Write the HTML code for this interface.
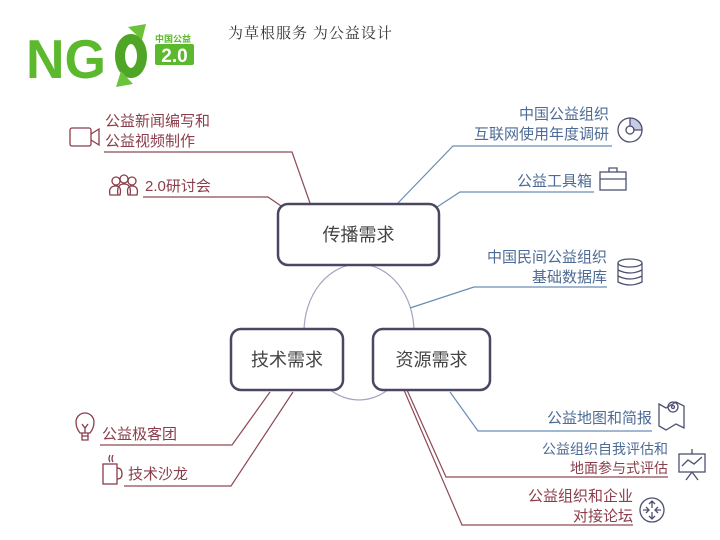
<!DOCTYPE html>
<html><head><meta charset="utf-8"><style>
html,body{margin:0;padding:0;background:#fff}
svg{display:block}
text{font-family:"Liberation Sans","Noto Sans CJK SC",sans-serif}
</style></head><body>
<svg width="720" height="540" viewBox="0 0 720 540" xmlns="http://www.w3.org/2000/svg">
<!-- logo -->
<text x="26" y="78" font-size="55" font-weight="bold" fill="#5cb82c" textLength="80" lengthAdjust="spacingAndGlyphs">NG</text>
<ellipse cx="131" cy="56" rx="11" ry="17" fill="none" stroke="#4ea526" stroke-width="10"/>
<path d="M128 27 L146 24 L142 40 Z" fill="#6cc23a"/>
<path d="M133 84 L116 87 L121 71 Z" fill="#6cc23a"/>
<text x="155" y="42" font-size="9" font-weight="bold" fill="#5cb82c" style="font-family:'Noto Sans CJK SC',sans-serif">中国公益</text>
<rect x="155" y="44" width="39" height="21" rx="2" fill="#5cb82c"/>
<text x="174.5" y="62" font-size="19" font-weight="bold" fill="#fff" text-anchor="middle">2.0</text>
<text x="228" y="38" font-size="15" fill="#333" style="font-family:'Noto Serif CJK SC',serif" letter-spacing="1">为草根服务 为公益设计</text>

<!-- center ellipse -->
<ellipse cx="359" cy="332" rx="55" ry="68" fill="none" stroke="#a7a3c0" stroke-width="1.2"/>

<!-- connectors -->
<g fill="none" stroke="#8e4a55" stroke-width="1.2">
<polyline points="104,152 292,152 310,203"/>
<polyline points="143,197 268,197 284,208"/>
<polyline points="100,445 232,445 270,392"/>
<polyline points="124,486 231,486 293,392"/>
<polyline points="668,477 446,477 407,390"/>
<polyline points="633,525 462,525 404,390"/>
</g>
<g fill="none" stroke="#6a8cb3" stroke-width="1.2">
<polyline points="612,146 453,146 398,203"/>
<polyline points="594,192 460,192 437,207"/>
<polyline points="607,287 474,287 410,308"/>
<polyline points="652,431 478,431 450,392"/>
</g>

<!-- boxes -->
<g fill="#fff" stroke="#4b4763" stroke-width="2.5">
<rect x="278" y="204" width="161" height="61" rx="10"/>
<rect x="231" y="329" width="112" height="61" rx="10"/>
<rect x="373" y="329" width="117" height="61" rx="10"/>
</g>
<g font-size="18" fill="#444" text-anchor="middle">
<text x="358.5" y="241">传播需求</text>
<text x="287" y="366">技术需求</text>
<text x="431.5" y="366">资源需求</text>
</g>

<!-- labels -->
<g font-size="15" fill="#8a3d4a">
<text x="105" y="126">公益新闻编写和</text>
<text x="105" y="146">公益视频制作</text>
<text x="145" y="191">2.0研讨会</text>
<text x="102" y="439">公益极客团</text>
<text x="128" y="479">技术沙龙</text>
</g>
<g font-size="15" fill="#4d6b95" text-anchor="end">
<text x="609" y="119">中国公益组织</text>
<text x="609" y="139">互联网使用年度调研</text>
<text x="592" y="186">公益工具箱</text>
<text x="607" y="262">中国民间公益组织</text>
<text x="607" y="282">基础数据库</text>
<text x="652" y="423">公益地图和简报</text>
<text x="668" y="454" font-size="14">公益组织自我评估和</text>
<text x="668" y="473" font-size="14" fill="#8a3d4a">地面参与式评估</text>
<text x="633" y="501" fill="#8a3d4a">公益组织和企业</text>
<text x="633" y="521" fill="#8a3d4a">对接论坛</text>
</g>

<!-- icons left -->
<g fill="none" stroke="#8a3d4a" stroke-width="1.3">
<rect x="70" y="128" width="21" height="18" rx="2"/>
<path d="M91 134 L99 129 L99 145 L91 140"/>
<circle cx="116" cy="181" r="4"/><circle cx="124" cy="179" r="4"/><circle cx="132" cy="181" r="4"/>
<path d="M110 195 Q108 186 116 186 Q122 186 120 195 Z"/>
<path d="M118 195 Q116 184 124 184 Q132 184 130 195"/>
<path d="M128 195 Q126 186 132 186 Q139 186 137 195 Z"/>
<path d="M80 433 Q76 428 76 422 A9 9 0 0 1 94 422 Q94 428 90 433 Z"/>
<path d="M82 433 L82 440 L88 440 L88 433 M82 436 L88 436 M82 424 L85 428 L88 424 M85 428 L85 433"/>
<rect x="103" y="464" width="14" height="20"/>
<path d="M117 468 Q122 468 122 474 Q122 479 117 479"/>
<path d="M110 455 Q108 459 110 462 M113 455 Q111 459 113 462"/>
</g>
<!-- icons right -->
<g fill="none" stroke="#4d5070" stroke-width="1.3">
<circle cx="630" cy="130" r="12"/><circle cx="630" cy="130" r="4"/>
<path d="M630 118 A12 12 0 0 1 642 130 L634 130 A4 4 0 0 0 630 126 Z" fill="#c6cbe8"/>
<rect x="600" y="172" width="26" height="18"/><path d="M609 172 L609 168 L617 168 L617 172 M600 179 L626 179"/>
<ellipse cx="630" cy="263" rx="12" ry="4"/>
<path d="M618 263 L618 282 Q630 288 642 282 L642 263 M618 270 Q630 276 642 270 M618 276 Q630 282 642 276"/>
<path d="M659 404 L666 408 L676 402 L684 406 L684 428 L676 424 L666 430 L659 426 Z"/>
<circle cx="673" cy="407" r="5"/><circle cx="673" cy="407" r="1.5"/>
<rect x="679" y="454" width="26" height="18"/><path d="M682 466 L688 460 L694 464 L702 457 M692 472 L686 480 M692 472 L698 480 M692 449 L692 454"/>
<circle cx="652" cy="510" r="12"/>
<path d="M652 501 L652 508 M649 504 L652 501 L655 504 M652 519 L652 512 M649 516 L652 519 L655 516 M643 510 L649 510 M646 507 L649 510 L646 513 M661 510 L655 510 M658 507 L655 510 L658 513"/>
</g>
</svg>
</body></html>
